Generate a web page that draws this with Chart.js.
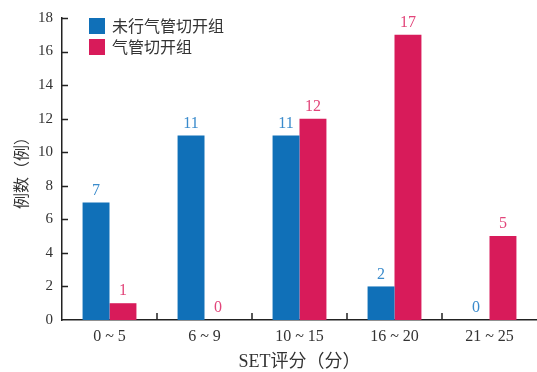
<!DOCTYPE html>
<html>
<head>
<meta charset="utf-8">
<script src="https://cdn.jsdelivr.net/npm/chart.js@4/dist/chart.umd.min.js"></script>
<style>
  html, body { margin: 0; padding: 0; background: #fff; }
  #wrap { width: 537px; height: 372px; }
</style>
</head>
<body>
<div id="wrap"><canvas id="setChart"></canvas></div>
<script>
const categories = ["0 ~ 5", "6 ~ 9", "10 ~ 15", "16 ~ 20", "21 ~ 25"];
const noTracheotomy = [7, 11, 11, 2, 0];
const tracheotomy = [1, 0, 12, 17, 5];
const yTicks = [0, 2, 4, 6, 8, 10, 12, 14, 16, 18];

const BLUE = "#1070b8";
const RED = "#d81b5a";
const serif = "'Liberation Serif', 'Noto Sans CJK SC', serif";
const cjk = "'Noto Sans CJK SC', 'Liberation Serif', sans-serif";

// value labels above each bar, in a lighter tone of the bar colour
const valueLabels = {
  id: "valueLabels",
  afterDatasetsDraw(chart) {
    const ctx = chart.ctx;
    const tones = ["#3a8bcc", "#e2457a"];
    ctx.save();
    ctx.font = "16px " + serif;
    ctx.textAlign = "center";
    ctx.textBaseline = "bottom";
    chart.data.datasets.forEach((ds, i) => {
      ctx.fillStyle = tones[i];
      chart.getDatasetMeta(i).data.forEach((bar, j) => {
        ctx.fillText(ds.data[j], bar.x, bar.y - 4);
      });
    });
    ctx.restore();
  },
};

// short tick marks pointing into the plot area
const innerTicks = {
  id: "innerTicks",
  afterDraw(chart) {
    const { ctx, scales } = chart;
    const x = scales.x, y = scales.y;
    const left = chart.chartArea.left, bottom = chart.chartArea.bottom;
    ctx.save();
    ctx.strokeStyle = "#222";
    ctx.lineWidth = 1.5;
    ctx.beginPath();
    yTicks.forEach((v) => {
      if (v === 0) return;
      const py = Math.round(y.getPixelForValue(v)) + 0.5;
      ctx.moveTo(left, py);
      ctx.lineTo(left + 6, py);
    });
    for (let i = 1; i < categories.length; i++) {
      const px = Math.round((x.getPixelForValue(i - 1) + x.getPixelForValue(i)) / 2);
      ctx.moveTo(px, bottom);
      ctx.lineTo(px, bottom - 7);
    }
    ctx.stroke();
    ctx.restore();
  },
};

// legend drawn inside the plot, top left
const boxLegend = {
  id: "boxLegend",
  afterDraw(chart) {
    const ctx = chart.ctx;
    ctx.save();
    ctx.font = "16px " + cjk;
    ctx.textBaseline = "middle";
    chart.data.datasets.forEach((ds, i) => {
      const top = 18 + i * 21;
      ctx.fillStyle = ds.backgroundColor;
      ctx.fillRect(89, top, 16, 16);
      ctx.fillStyle = "#333";
      ctx.fillText(ds.label, 112, top + 8);
    });
    ctx.restore();
  },
};

new Chart(document.getElementById("setChart"), {
  type: "bar",
  data: {
    labels: categories,
    datasets: [
      { label: "未行气管切开组", data: noTracheotomy, backgroundColor: BLUE },
      { label: "气管切开组", data: tracheotomy, backgroundColor: RED },
    ],
  },
  options: {
    responsive: true,
    maintainAspectRatio: false,
    animation: false,
    categoryPercentage: 0.567,
    barPercentage: 1.0,
    layout: { padding: { top: 18, right: 0, bottom: 0, left: 0 } },
    plugins: {
      legend: { display: false },
      tooltip: { enabled: false },
    },
    scales: {
      x: {
        grid: { display: false, drawTicks: false },
        border: { display: true, color: "#222", width: 1.5 },
        ticks: { color: "#333", font: { family: serif, size: 16 }, padding: 7 },
        title: {
          display: true,
          text: "SET评分（分）",
          color: "#333",
          font: { family: serif, size: 18 },
          padding: { top: 0, bottom: -1 },
        },
        afterFit(scale) {
          scale.height = 52;
        },
      },
      y: {
        min: 0,
        max: 18,
        afterBuildTicks(scale) {
          scale.ticks = yTicks.map((v) => ({ value: v }));
        },
        grid: { display: false, drawTicks: false },
        border: { display: true, color: "#222", width: 1.5 },
        ticks: { color: "#333", font: { family: serif, size: 15 }, padding: 9 },
        title: {
          display: true,
          text: "例数（例）",
          color: "#333",
          font: { family: cjk, size: 16 },
          padding: { top: 11, bottom: 0 },
        },
        afterFit(scale) {
          scale.width = 62;
        },
      },
    },
  },
  plugins: [valueLabels, innerTicks, boxLegend],
});
</script>
</body>
</html>
